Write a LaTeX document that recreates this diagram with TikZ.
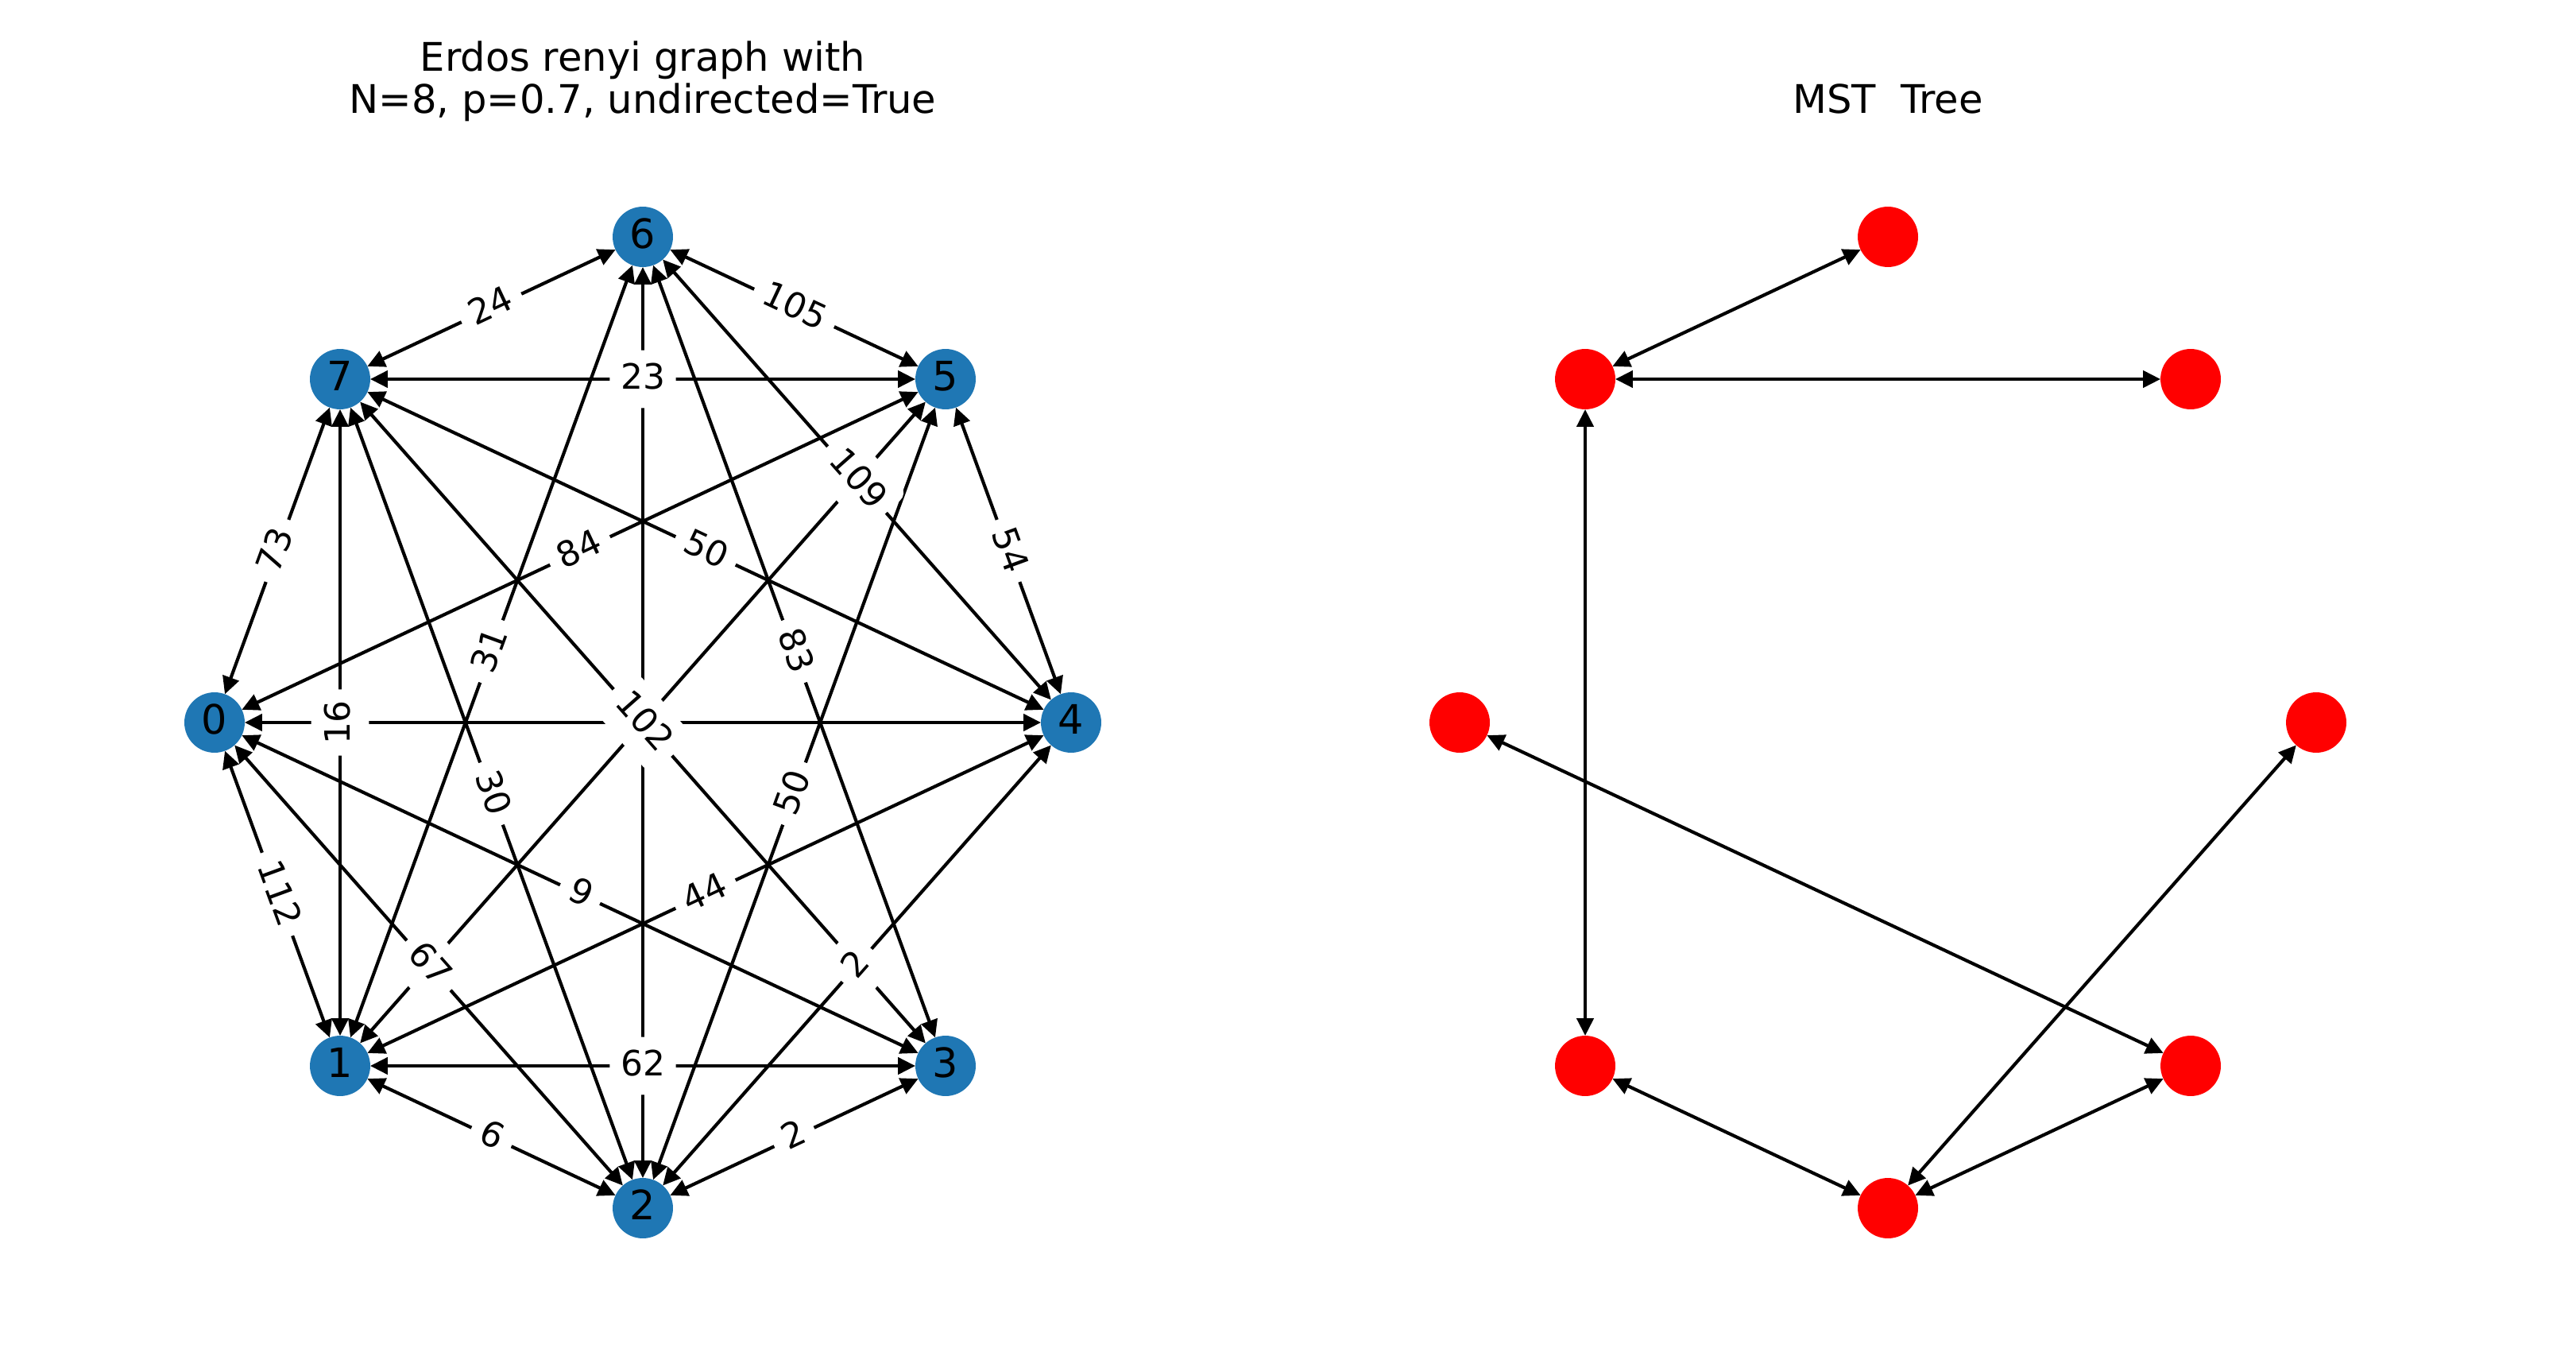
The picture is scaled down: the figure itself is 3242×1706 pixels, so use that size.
\documentclass[tikz,border=0pt]{standalone}
\usepackage{fontspec}
\setmainfont{DejaVu Sans}
\usetikzlibrary{arrows.meta}
\definecolor{nodeblue}{HTML}{1F77B4}

\begin{document}
\begin{tikzpicture}[x=0.2278pt, y=-0.2278pt, >={Triangle[length=5pt,width=4.8pt]}, <->,
line width=0.95pt,
vertex/.style ={circle, fill=nodeblue, minimum size=17.3pt, inner sep=0pt, outer sep=0pt, text height=8.4pt, text depth=1.7pt, font=\fontsize{11.6}{13}\selectfont},
tree/.style ={circle, fill=red, minimum size=17.3pt, inner sep=0pt, outer sep=0pt},
weight/.style ={midway, sloped, fill=white, rounded corners=3pt, inner xsep=3.1pt, inner ysep=3pt, text height=8.1pt, text depth=2.5pt, font=\fontsize{10}{12}\selectfont},
title/.style ={align=center, anchor=base, font=\fontsize{11.3}{12.1}\selectfont}]

\fill[white] (0,0) rectangle (3242,1706);
\useasboundingbox (0,0) rectangle (3242,1706);

\node[title] (erdos) at (809,143) {Erdos renyi graph with\\N=8, p=0.7, undirected=True};
\node[title] (mst) at (2376,143) {MST\ \ Tree};

\node[vertex] (N0) at (270,909) {0};
\node[vertex] (N1) at (428,1341) {1};
\node[vertex] (N2) at (809,1520) {2};
\node[vertex] (N3) at (1190,1341) {3};
\node[vertex] (N4) at (1348,909) {4};
\node[vertex] (N5) at (1190,477) {5};
\node[vertex] (N6) at (809,298) {6};
\node[vertex] (N7) at (428,477) {7};

\node[tree] (T0) at (1837,909) {};
\node[tree] (T1) at (1995,1341) {};
\node[tree] (T2) at (2376,1520) {};
\node[tree] (T3) at (2757,1341) {};
\node[tree] (T4) at (2915,909) {};
\node[tree] (T5) at (2757,477) {};
\node[tree] (T6) at (2376,298) {};
\node[tree] (T7) at (1995,477) {};

\draw (N6) -- (N7);
\draw (N6) -- (N5);
\draw (N7) -- (N5);
\draw (N7) -- (N0);
\draw (N5) -- (N4);
\draw (N0) -- (N1);
\draw (N1) -- (N2);
\draw (N2) -- (N3);
\draw (N1) -- (N3);
\draw (N7) -- (N1);
\draw (N7) -- (N2);
\draw (N7) -- (N3);
\draw (N7) -- (N4);
\draw (N6) -- (N1);
\draw (N6) -- (N2);
\draw (N6) -- (N3);
\draw (N6) -- (N4);
\draw (N0) -- (N5);
\draw (N0) -- (N4);
\draw (N0) -- (N3);
\draw (N0) -- (N2);
\draw (N5) -- (N1);
\draw (N5) -- (N2);
\draw (N4) -- (N1);
\draw (N4) -- (N2);

\path (N7) -- (N6) node[weight] {24};
\path (N6) -- (N5) node[weight] {105};
\path (N7) -- (N5) node[weight] {23};
\path (N7) -- (N0) node[weight] {73};
\path (N5) -- (N4) node[weight] {54};
\path (N0) -- (N1) node[weight] {112};
\path (N1) -- (N2) node[weight] {6};
\path (N2) -- (N3) node[weight] {2};
\path (N1) -- (N3) node[weight] {62};
\path (N1) -- (N7) node[weight] {16};
\path (N7) -- (N2) node[weight] {30};
\path (N7) -- (N4) node[weight] {50};
\path (N6) -- (N1) node[weight] {31};
\path (N6) -- (N3) node[weight] {83};
\path (N6) -- (N4) node[weight] {109};
\path (N0) -- (N5) node[weight] {84};
\path (N5) -- (N2) node[weight] {50};
\path (N0) -- (N3) node[weight] {9};
\path (N0) -- (N2) node[weight] {67};
\path (N4) -- (N1) node[weight] {44};
\path (N4) -- (N2) node[weight] {2};
\path (N7) -- (N3) node[weight] {102};

\draw (T7) -- (T6);
\draw (T7) -- (T5);
\draw (T7) -- (T1);
\draw (T0) -- (T3);
\draw (T4) -- (T2);
\draw (T1) -- (T2);
\draw (T2) -- (T3);

\end{tikzpicture}
\end{document}
